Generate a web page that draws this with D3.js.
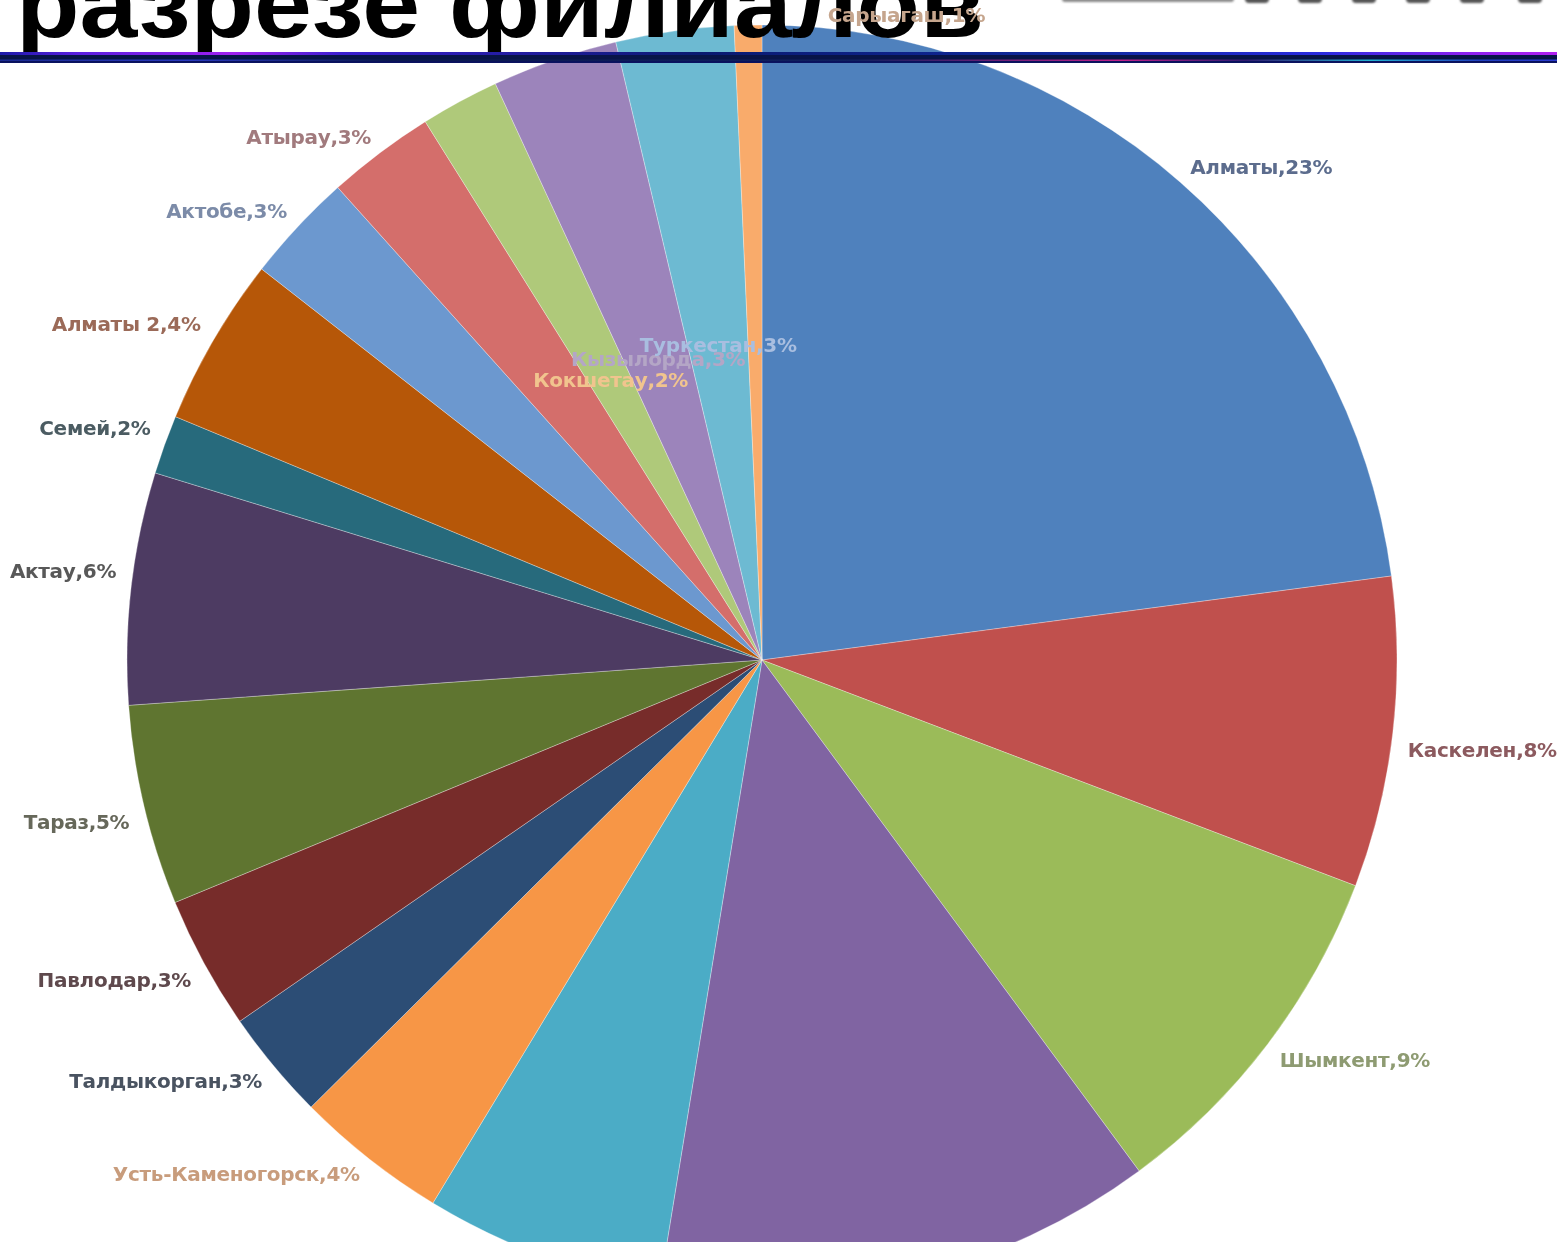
<!DOCTYPE html>
<html>
<head>
<meta charset="utf-8">
<script src="https://cdn.jsdelivr.net/npm/d3@7"></script>
<style>
  html, body { margin: 0; padding: 0; background: #ffffff; overflow: hidden; }
  svg { display: block; }
</style>
</head>
<body>
<svg id="chart" width="1557" height="1242"></svg>
<script>
// ---- data ----
const categories = ["Алматы", "Каскелен", "Шымкент", "Астана", "Караганда", "Усть-Каменогорск",
  "Талдыкорган", "Павлодар", "Тараз", "Актау", "Семей", "Алматы 2", "Актобе", "Атырау",
  "Кокшетау", "Кызылорда", "Туркестан", "Сарыагаш"];
const values = [22.9, 7.9, 9.1, 12.7, 6.1, 3.9, 2.8, 3.4, 5.1, 5.9, 1.5, 4.3, 2.8, 2.75, 2.0, 3.2, 3.0, 0.7];
const pctLabels = ["23%", "8%", "9%", "13%", "6%", "4%", "3%", "3%", "5%", "6%", "2%", "4%", "3%", "3%", "2%", "3%", "3%", "1%"];
const sliceColors = ["#4F81BD", "#C0504D", "#9BBB59", "#8064A2", "#4BACC6", "#F79646",
  "#2C4D75", "#772C2A", "#5F7530", "#4D3B62", "#276A7C", "#B65708", "#6C98CF", "#D46E6B",
  "#AFC97A", "#9C84BB", "#6DBAD2", "#F9AB6B"];
const labelColors = ["#5B6C8D", "#8C5A5E", "#8E9B72", "#6E5E86", "#5A8E9E", "#C89C7C",
  "#4A5261", "#5E4A4D", "#66675A", "#595959", "#4B5B62", "#9B6B59", "#7B8BA8", "#A17A7D",
  "#F1C48E", "#B4A6C6", "#A9BEE0", "#C5A58D"];
const insideLabels = ["Кокшетау", "Кызылорда", "Туркестан"];
const titleText = "разрезе филиалов";

const data = categories.map((c, i) => ({ name: c, value: values[i], pct: pctLabels[i],
  color: sliceColors[i], lcolor: labelColors[i] }));

// ---- layout ----
const W = 1557, H = 1242;
const cx = 762, cy = 660, R = 635;
const outLabelR = 650, inLabelR = 318;
const nudges = { "Сарыагаш": { anchor: "start", dx: 80, dy: 5 } };

const svg = d3.select("#chart");
svg.append("rect").attr("width", W).attr("height", H).attr("fill", "#ffffff");

const defs = svg.append("defs");

// ---- pie ----
const pie = d3.pie().sort(null).value(d => d.value).startAngle(0).endAngle(2 * Math.PI);
const arcs = pie(data);
const arc = d3.arc().innerRadius(0).outerRadius(R);
const g = svg.append("g").attr("transform", `translate(${cx},${cy})`);

g.selectAll("path.slice").data(arcs).join("path")
  .attr("class", "slice")
  .attr("d", arc)
  .attr("fill", d => d.data.color)
  .attr("stroke", "rgba(255,255,255,0.3)")
  .attr("stroke-width", 1);

// ---- title (drawn over pie) ----
svg.append("text")
  .attr("x", 16).attr("y", 37)
  .attr("font-family", "'Liberation Sans', Arial, sans-serif")
  .attr("font-weight", "bold")
  .attr("font-size", 94)
  .attr("textLength", 968)
  .attr("lengthAdjust", "spacingAndGlyphs")
  .attr("fill", "#000000")
  .text(titleText);

// ---- decorative band under title ----
const g1 = defs.append("linearGradient").attr("id", "bandTop").attr("x1", "0").attr("x2", "1");
[[0, "#1c1aa8"], [0.05, "#5a1ee0"], [0.15, "#a020f0"], [0.22, "#3a1ed0"], [0.45, "#0a1a70"],
 [0.7, "#102aa0"], [0.85, "#2a2ae0"], [0.94, "#8a20f0"], [1, "#b020f0"]]
  .forEach(([o, c]) => g1.append("stop").attr("offset", o).attr("stop-color", c));
const g2 = defs.append("linearGradient").attr("id", "bandLine").attr("x1", "0").attr("x2", "1");
[[0, "#1a2a90"], [0.12, "#2a3ac0"], [0.25, "#0a1850"], [0.55, "#102060"], [0.72, "#c0208a"],
 [0.8, "#301a70"], [0.88, "#20b0d0"], [0.95, "#2040c0"], [1, "#2a3ad0"]]
  .forEach(([o, c]) => g2.append("stop").attr("offset", o).attr("stop-color", c));

svg.append("rect").attr("x", 0).attr("y", 52).attr("width", W).attr("height", 11).attr("fill", "#081448");
svg.append("rect").attr("x", 0).attr("y", 52).attr("width", W).attr("height", 3).attr("fill", "url(#bandTop)");
svg.append("rect").attr("x", 0).attr("y", 59.5).attr("width", W).attr("height", 1.6).attr("fill", "url(#bandLine)");
svg.append("rect").attr("x", 0).attr("y", 61.2).attr("width", W).attr("height", 1.8).attr("fill", "#0a1260");

// ---- logo remnants (top right) ----
const blur = defs.append("filter").attr("id", "soft");
blur.append("feGaussianBlur").attr("stdDeviation", 1.2);
const logo = svg.append("g").attr("filter", "url(#soft)").attr("fill", "#8a8a8a");
logo.append("rect").attr("x", 1062).attr("y", -6).attr("width", 172).attr("height", 8).attr("rx", 3);
[1245, 1298, 1352, 1406, 1460, 1518].forEach((x, i) => {
  logo.append("rect").attr("x", x).attr("y", -8).attr("width", 24).attr("height", 11).attr("rx", 4).attr("fill", "#555555");
});

// ---- labels ----
const lblFilter = defs.append("filter").attr("id", "lblsoft");
lblFilter.append("feGaussianBlur").attr("stdDeviation", 0.55);

const labelsG = svg.append("g")
  .attr("transform", `translate(${cx},${cy})`)
  .attr("font-family", "'DejaVu Sans', sans-serif")
  .attr("font-weight", "bold")
  .attr("font-size", 20)
  .attr("filter", "url(#lblsoft)");

const inArc = d3.arc().innerRadius(inLabelR).outerRadius(inLabelR);
const outArc = d3.arc().innerRadius(outLabelR).outerRadius(outLabelR);

arcs.forEach(a => {
  const mid = (a.startAngle + a.endAngle) / 2;
  const s = Math.sin(mid), c = Math.cos(mid);
  let x, y, anchor;
  if (insideLabels.includes(a.data.name)) {
    [x, y] = inArc.centroid(a);
    anchor = "middle";
  } else {
    [x, y] = outArc.centroid(a);
    y += -Math.sign(c) * 17 * (1 - Math.abs(c));
    anchor = s >= 0 ? "start" : "end";
  }
  const n = nudges[a.data.name];
  if (n) { x += n.dx; y += n.dy; anchor = n.anchor; }
  if (cy + y > H + 10) return; // label lies outside the visible frame
  labelsG.append("text")
    .attr("x", x).attr("y", y)
    .attr("text-anchor", anchor)
    .attr("dominant-baseline", "central")
    .attr("fill", a.data.lcolor)
    .attr("letter-spacing", -0.3)
    .text(`${a.data.name},${a.data.pct}`);
});
</script>
</body>
</html>
